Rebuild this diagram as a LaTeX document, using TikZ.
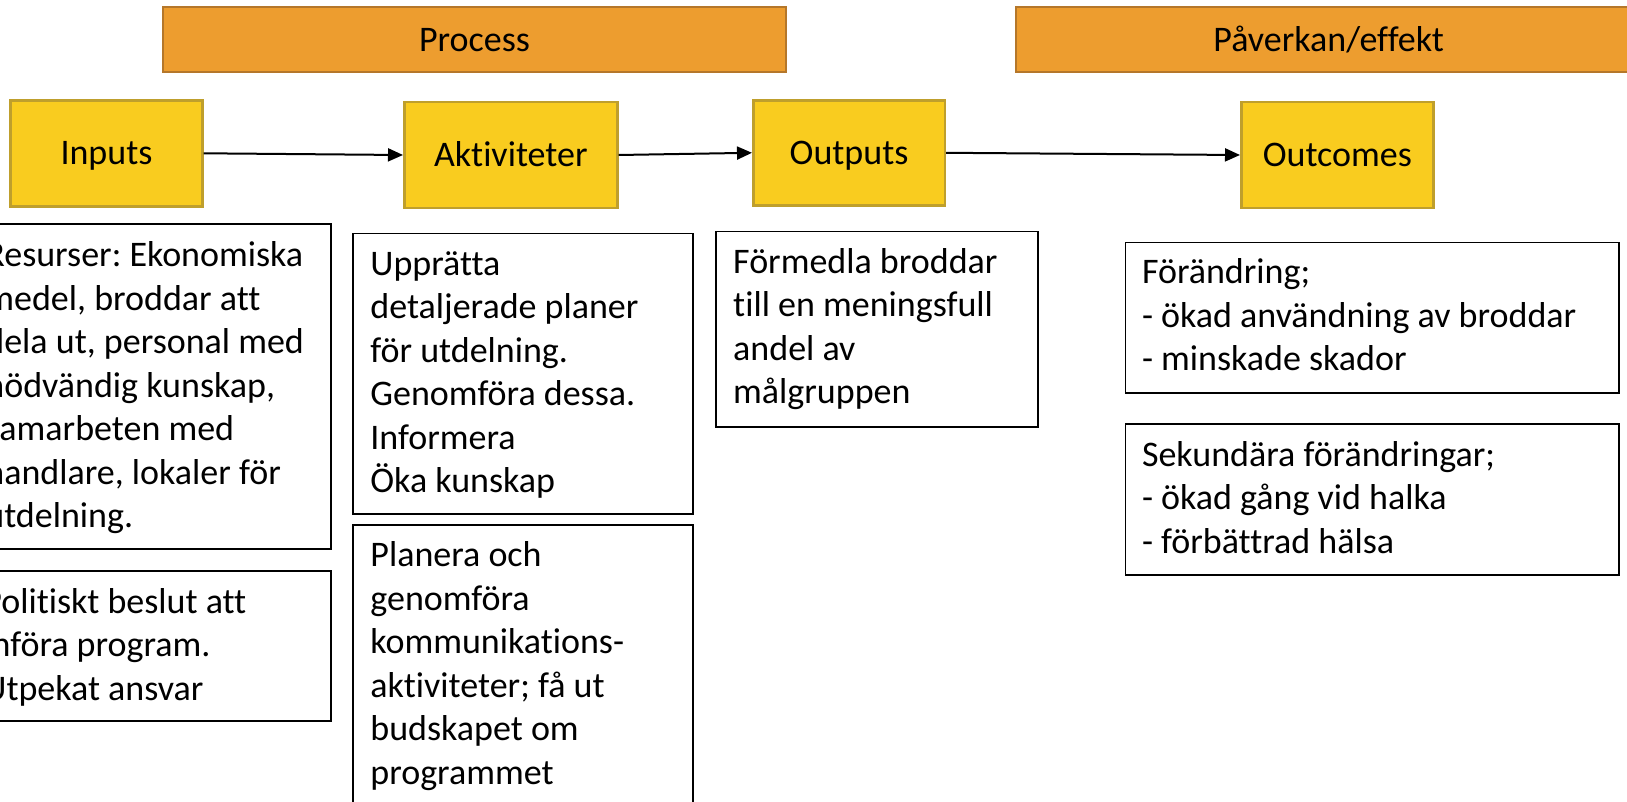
\documentclass[tikz,border=0pt]{standalone}
\usepackage{fontspec}
\setmainfont{Carlito}[Ligatures={NoCommon}]
\frenchspacing
\usetikzlibrary{arrows.meta,calc}
\definecolor{hdrfill}{HTML}{ED9D2F}
\definecolor{hdrline}{HTML}{B5772A}
\definecolor{yfill}{HTML}{F9CC1F}
\definecolor{yline}{HTML}{BF9F2C}
\newcommand{\bodyfont}{\fontsize{18}{21.75}\selectfont}
\tikzset{
  hdr/.style={draw=hdrline, fill=hdrfill, line width=1.2pt, anchor=north west,
    inner sep=0pt, font=\bodyfont, text height=11.6pt, text depth=0pt},
  ybox/.style={draw=yline, fill=yfill, line width=1.3pt, anchor=north west,
    inner sep=0pt, font=\bodyfont, text height=11.6pt, text depth=0pt},
  frame/.style={draw=black, line width=0.9pt, anchor=north west, inner sep=0pt},
  txt/.style={anchor=base west, inner sep=0pt, font=\bodyfont},
  conn/.style={line width=1pt, -{Triangle[length=7.5pt,width=6.5pt]}}
}
\newcommand{\lines}[1]{\parbox[t]{320pt}{\raggedright\frenchspacing #1}}
\begin{document}
\begin{tikzpicture}[x=0.5pt,y=-0.5pt]
\useasboundingbox (0,0) rectangle (1627,802);
\clip (0,0) rectangle (1627,802);

% header bars
\node[hdr, minimum width=311.25pt, minimum height=32.65pt] (process) at (162,5.7) {Process};
\node[hdr, minimum width=312.5pt, minimum height=32.65pt] (paverkan) at (1015,5.7) {Påverkan/effekt};

% yellow boxes
\node[ybox, minimum width=95.8pt, minimum height=53pt] (inputs) at (9.4,99) {Inputs};
\node[ybox, minimum width=106.5pt, minimum height=53pt] (aktiv) at (403,100.7) {Aktiviteter};
\node[ybox, minimum width=95.75pt, minimum height=52.5pt] (outputs) at (752,99) {Outputs};
\node[ybox, minimum width=96pt, minimum height=53pt] (outcomes) at (1240,100.7) {Outcomes};

% connectors
\draw[conn] (inputs.east) -- (aktiv.west);
\draw[conn] (aktiv.east) -- (outputs.west);
\draw[conn] (outputs.east) -- (outcomes.west);

% text frames
\node[frame, minimum width=181.35pt, minimum height=162.5pt] (r1) at (-33,223.3) {};
\node[frame, minimum width=181.35pt, minimum height=75pt] (r2) at (-33,570) {};
\node[frame, minimum width=170pt, minimum height=140.3pt] (a1) at (352,232.7) {};
\node[frame, minimum width=170pt, minimum height=170pt] (a2) at (352,524) {};
\node[frame, minimum width=161.1pt, minimum height=97.65pt] (o1) at (714.8,230.7) {};
\node[frame, minimum width=246.6pt, minimum height=75pt] (c1) at (1124.6,241.7) {};
\node[frame, minimum width=246.6pt, minimum height=75.35pt] (c2) at (1124.6,423.3) {};

% texts
\node[txt] (r1t) at ($(r1.north west)+(18,43.4)$) {\lines{Resurser: Ekonomiska\\medel, broddar att\\dela ut, personal med\\nödvändig kunskap,\\samarbeten med\\handlare, lokaler för\\utdelning.}};
\node[txt] (r2t) at ($(r2.north west)+(16,43)$) {\lines{Politiskt beslut att\\införa program.\\Utpekat ansvar}};
\node[txt] (a1t) at ($(a1.north west)+(18,42.5)$) {\lines{Upprätta\\detaljerade planer\\för utdelning.\\Genomföra dessa.\\Informera\\Öka kunskap}};
\node[txt] (a2t) at ($(a2.north west)+(18,42.7)$) {\lines{Planera och\\genomföra\\kommunikations-\\aktiviteter; få ut\\budskapet om\\programmet}};
\node[txt] (o1t) at ($(o1.north west)+(18,42.6)$) {\lines{Förmedla broddar\\till en meningsfull\\andel av\\målgruppen}};
\node[txt] (c1t) at ($(c1.north west)+(17,42.3)$) {\lines{Förändring;\\- ökad användning av broddar\\- minskade skador}};
\node[txt] (c2t) at ($(c2.north west)+(17,42.7)$) {\lines{Sekundära förändringar;\\- ökad gång vid halka\\- förbättrad hälsa}};
\end{tikzpicture}
\end{document}
